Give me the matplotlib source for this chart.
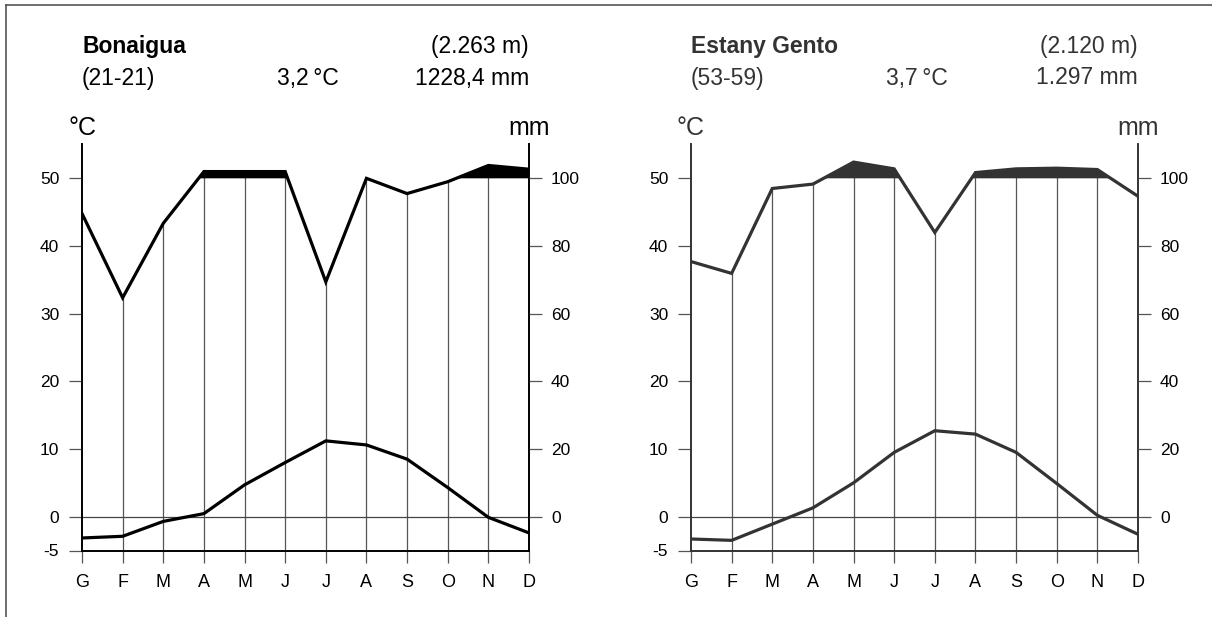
import matplotlib
matplotlib.use("Agg")
import matplotlib.pyplot as plt
from matplotlib.lines import Line2D
import numpy as np

plt.rcParams['font.family'] = ['Liberation Sans', 'DejaVu Sans']

months = ["G", "F", "M", "A", "M", "J", "J", "A", "S", "O", "N", "D"]

# Bonaigua
bon_name = "Bonaigua"
bon_alt = "(2.263 m)"
bon_period = "(21-21)"
bon_tmean = "3,2\u2009°C"
bon_ptotal = "1228,4 mm"
bon_temp = [-3.15, -2.9, -0.7, 0.45, 4.7, 8.0, 11.2, 10.6, 8.5, 4.3, -0.1, -2.4]
bon_prec = [89.6, 64.7, 86.7, 120, 120, 120, 69.4, 100, 95.5, 99, 138, 127]

# Estany Gento
gen_name = "Estany Gento"
gen_alt = "(2.120 m)"
gen_period = "(53-59)"
gen_tmean = "3,7\u2009°C"
gen_ptotal = "1.297 mm"
gen_temp = [-3.3, -3.5, -1.1, 1.3, 5.0, 9.5, 12.7, 12.2, 9.5, 4.9, 0.2, -2.6]
gen_prec = [75.4, 71.9, 97, 98.3, 148, 128, 84, 117, 128, 130, 126, 94.7]

temp_ticks = [-5, 0, 10, 20, 30, 40, 50]
prec_ticks = [0, 20, 40, 60, 80, 100]

W, H = 1212, 617
fig = plt.figure(figsize=(W / 100, H / 100), dpi=100)


def prec_to_temp(p):
    # 2 mm per degree up to 100 mm, 20 mm per degree above
    p = np.asarray(p, dtype=float)
    return np.where(p <= 100, p / 2.0, 50 + (p - 100) / 20.0)


def climate(left_px, temp, prec, color, name, alt, period, tmean, ptotal):
    width_px = 447
    ax = fig.add_axes([left_px / W, (H - 550.5) / H, width_px / W, 406 / H])
    x = np.arange(12)
    pt = prec_to_temp(prec)

    ax.set_xlim(0, 11)
    ax.set_ylim(-5, 55)

    # month lines from the base up to the rain curve
    for i in range(1, 11):
        ax.plot([i, i], [-5, pt[i]], color="#555555", lw=0.9, zorder=1,
                solid_capstyle="butt")
    ax.axhline(0, color="#444444", lw=0.9, zorder=1)

    # wet excess above 100 mm
    ax.fill_between(x, 50, pt, where=pt >= 50, interpolate=True,
                    color=color, lw=0, zorder=2)

    ax.plot(x, temp, color=color, lw=2.3, zorder=3, solid_joinstyle="miter")
    ax.plot(x, pt, color=color, lw=2.3, zorder=3, solid_joinstyle="miter")

    ax.spines["top"].set_visible(False)
    for side in ["left", "right", "bottom"]:
        ax.spines[side].set_color(color)
        ax.spines[side].set_linewidth(1.4)

    ax.set_xticks(x)
    ax.set_xticklabels(months, fontsize=13)
    ax.tick_params(axis="x", length=8.6, width=0.9, color="#555555", pad=8.5)
    ax.set_yticks(temp_ticks)
    ax.set_yticklabels([str(t) for t in temp_ticks], fontsize=12.5)
    ax.tick_params(axis="y", length=9.4, width=0.9, color="#555555", pad=7)

    ax2 = ax.twinx()
    ax2.set_ylim(-10, 110)
    ax2.set_yticks(prec_ticks)
    ax2.set_yticklabels([str(p) for p in prec_ticks], fontsize=12.5)
    ax2.tick_params(axis="y", length=9.4, width=0.9, color="#555555", pad=6.5)
    for side in ["top", "left", "bottom", "right"]:
        ax2.spines[side].set_visible(False)

    right_px = left_px + width_px
    fs = 16.5
    fig.text(left_px / W, 1 - 46 / H, name, fontsize=fs, fontweight="bold",
             ha="left", va="center", color=color)
    fig.text(right_px / W, 1 - 46 / H, alt, fontsize=fs, ha="right",
             va="center", color=color)
    fig.text(left_px / W, 1 - 78 / H, period, fontsize=fs, ha="left",
             va="center", color=color)
    fig.text((left_px + 226) / W, 1 - 78 / H, tmean, fontsize=fs,
             ha="center", va="center", color=color)
    fig.text(right_px / W, 1 - 78 / H, ptotal, fontsize=fs, ha="right",
             va="center", color=color)
    fig.text(left_px / W, 1 - 128 / H, "°C", fontsize=18, ha="center",
             va="center", color=color)
    fig.text(right_px / W, 1 - 128 / H, "mm", fontsize=18, ha="center",
             va="center", color=color)


climate(82, bon_temp, bon_prec, "#000000", bon_name, bon_alt, bon_period,
        bon_tmean, bon_ptotal)
climate(691, gen_temp, gen_prec, "#333333", gen_name, gen_alt, gen_period,
        gen_tmean, gen_ptotal)

# page border, top and left edges
fig.add_artist(Line2D([6 / W, 1], [1 - 5 / H, 1 - 5 / H], color="#555555", lw=1.2))
fig.add_artist(Line2D([6 / W, 6 / W], [0, 1 - 5 / H], color="#555555", lw=1.2))

fig.savefig("out.png", dpi=100)
